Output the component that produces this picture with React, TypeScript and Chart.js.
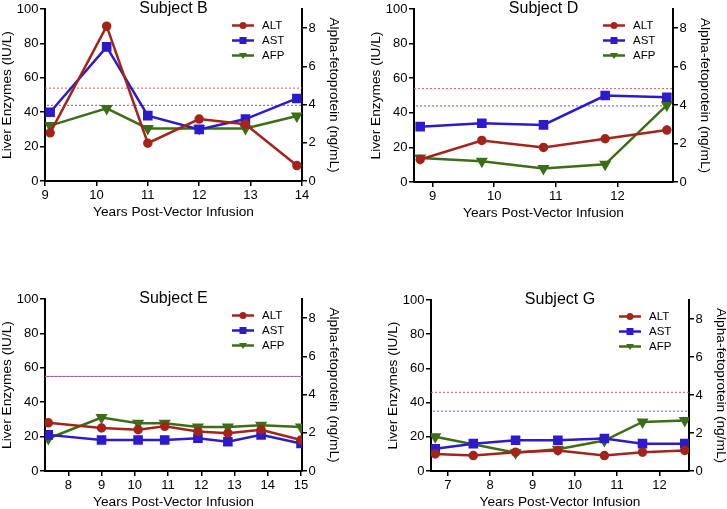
import React, { useEffect, useRef } from 'react';
import { Chart, registerables } from 'chart.js';

Chart.register(...registerables);

// ---------- data ----------
const SERIES = ['ALT', 'AST', 'AFP'];
const X_TITLE = 'Years Post-Vector Infusion';
const Y_TITLE = 'Liver Enzymes (IU/L)';
const Y2_TITLE = 'Alpha-fetoprotein (ng/mL)';
const Y_TICKS = [0, 20, 40, 60, 80, 100];
const Y2_TICKS = [0, 2, 4, 6, 8];

// Subject B
const B_YEARS = [9.1, 10.2, 11.0, 12.0, 12.9, 13.9];
const B_ALT = [28, 90, 22, 36, 33, 9];
const B_AST = [40, 78, 38, 30, 36, 48];
const B_AFP_YEARS = [9.1, 10.2, 11.0, 12.0, 12.9, 13.9];
const B_AFP = [2.9, 3.8, 2.75, 2.75, 2.75, 3.4];
const B_LIMITS = [54, 44];
const B_XRANGE = [9, 14];
const B_XTICKS = [9, 10, 11, 12, 13, 14];

// Subject D
const D_YEARS = [8.8, 9.8, 10.8, 11.8, 12.8];
const D_ALT = [13, 24, 20, 25, 30];
const D_AST = [32, 34, 33, 50, 49];
const D_AFP_YEARS = [8.8, 9.8, 10.8, 11.8, 12.8];
const D_AFP = [1.25, 1.08, 0.7, 0.92, 4.0];
const D_LIMITS = [54, 44];
const D_XRANGE = [8.7, 12.9];
const D_XTICKS = [9, 10, 11, 12];

// Subject E
const E_YEARS = [7.4, 9.0, 10.1, 10.9, 11.9, 12.8, 13.8, 15.0];
const E_ALT = [28, 25, 24, 26, 23, 22, 24, 18];
const E_AST = [21, 18, 18, 18, 19, 17, 21, 16];
const E_AFP_YEARS = [7.4, 9.0, 10.1, 10.9, 11.9, 12.8, 13.8, 15.0];
const E_AFP = [1.7, 2.8, 2.5, 2.5, 2.3, 2.3, 2.4, 2.3];
const E_LIMITS = [55, 55];
const E_XRANGE = [7.3, 15.03];
const E_XTICKS = [8, 9, 10, 11, 12, 13, 14, 15];

// Subject G
const G_YEARS = [6.7, 7.6, 8.6, 9.6, 10.7, 11.6, 12.6];
const G_ALT = [10, 9, 11, 12, 9, 11, 12];
const G_AST = [13, 16, 18, 18, 19, 16, 16];
const G_AFP_YEARS = [6.7, 8.6, 9.6, 10.7, 11.6, 12.6];
const G_AFP = [1.8, 0.96, 1.14, 1.6, 2.58, 2.66];
const G_LIMITS = [46, 35];
const G_XRANGE = [6.6, 12.7];
const G_XTICKS = [7, 8, 9, 10, 11, 12];

// ---------- style / layout ----------
const FONT = '"Liberation Sans", Arial, Helvetica, sans-serif';
const COL_ALT = '#a3241b';
const COL_AST = '#2c1acb';
const COL_AFP = '#3c6e17';
const COL_ALT_LIM = '#e05a5a';
const COL_AST_LIM = '#5a5ae8';
const LEFT_W = 45;
const RIGHT_W = 45;
const TOP_PAD = 12;
const BOTTOM_H = 40;

type Panel = {
  title: string;
  years: number[]; alt: number[]; ast: number[];
  afpYears: number[]; afp: number[];
  limits: number[]; xRange: number[]; xTicks: number[];
  area: [number, number, number, number]; // left, top, right, bottom (page px)
};

const PANELS: Panel[] = [
  { title: 'Subject B', years: B_YEARS, alt: B_ALT, ast: B_AST, afpYears: B_AFP_YEARS, afp: B_AFP, limits: B_LIMITS, xRange: B_XRANGE, xTicks: B_XTICKS, area: [45, 9, 302, 181] },
  { title: 'Subject D', years: D_YEARS, alt: D_ALT, ast: D_AST, afpYears: D_AFP_YEARS, afp: D_AFP, limits: D_LIMITS, xRange: D_XRANGE, xTicks: D_XTICKS, area: [414, 9, 673, 182] },
  { title: 'Subject E', years: E_YEARS, alt: E_ALT, ast: E_AST, afpYears: E_AFP_YEARS, afp: E_AFP, limits: E_LIMITS, xRange: E_XRANGE, xTicks: E_XTICKS, area: [45, 299, 302, 471] },
  { title: 'Subject G', years: G_YEARS, alt: G_ALT, ast: G_AST, afpYears: G_AFP_YEARS, afp: G_AFP, limits: G_LIMITS, xRange: G_XRANGE, xTicks: G_XTICKS, area: [431, 300, 689, 471] },
];

function drawMarker(ctx: CanvasRenderingContext2D, style: string, x: number, y: number, color: string) {
  ctx.fillStyle = color;
  ctx.beginPath();
  if (style === 'circle') {
    ctx.arc(x, y, 3.5, 0, Math.PI * 2);
  } else if (style === 'rect') {
    ctx.rect(x - 3.5, y - 3.5, 7, 7);
  } else {
    ctx.moveTo(x - 4, y - 2.5);
    ctx.lineTo(x + 4, y - 2.5);
    ctx.lineTo(x, y + 3.5);
    ctx.closePath();
  }
  ctx.fill();
}

function makeConfig(p: Panel): any {
  const pts = (xs: number[], ys: number[]) => xs.map((x, i) => ({ x, y: ys[i] }));
  const [xMin, xMax] = p.xRange;
  const axisFont = { family: FONT, size: 13 };
  const titleFont = { family: FONT, size: 13.7, lineHeight: 1 };
  const grid = { drawOnChartArea: false, drawTicks: true, tickLength: 5, color: '#000', lineWidth: 1.5 };
  const border = { color: '#000', width: 2 };
  const styles = ['circle', 'rect', 'triangle'];
  const cols = [COL_ALT, COL_AST, COL_AFP];

  const decor = {
    id: 'decor',
    afterDraw(chart: any) {
      const ctx = chart.ctx as CanvasRenderingContext2D;
      const ca = chart.chartArea;
      ctx.save();
      ctx.fillStyle = '#000';
      ctx.font = `16px ${FONT}`;
      ctx.textAlign = 'center';
      ctx.textBaseline = 'alphabetic';
      ctx.fillText(p.title, (ca.left + ca.right) / 2, ca.top + 3.7);
      ctx.font = `11.5px ${FONT}`;
      ctx.textAlign = 'left';
      ctx.textBaseline = 'middle';
      SERIES.forEach((name, i) => {
        const y = ca.top + 16.5 + 15 * i;
        const x0 = ca.right - 70;
        ctx.strokeStyle = cols[i];
        ctx.lineWidth = 2.5;
        ctx.beginPath();
        ctx.moveTo(x0, y);
        ctx.lineTo(x0 + 22, y);
        ctx.stroke();
        drawMarker(ctx, styles[i], x0 + 11, y, cols[i]);
        ctx.fillStyle = '#000';
        ctx.fillText(name, ca.right - 40, y + 0.5);
      });
      ctx.restore();
    },
  };

  return {
    type: 'line',
    data: {
      datasets: [
        { label: 'ALT', data: pts(p.years, p.alt), borderColor: COL_ALT, backgroundColor: COL_ALT, borderWidth: 2.5, pointStyle: 'circle', pointRadius: 3.5, yAxisID: 'y' },
        { label: 'AST', data: pts(p.years, p.ast), borderColor: COL_AST, backgroundColor: COL_AST, borderWidth: 2.5, pointStyle: 'rect', pointRadius: 5, yAxisID: 'y' },
        { label: 'AFP', data: pts(p.afpYears, p.afp), borderColor: COL_AFP, backgroundColor: COL_AFP, borderWidth: 2.5, pointStyle: 'triangle', rotation: 180, pointRadius: 4.5, yAxisID: 'y2' },
        { label: 'ALT limit', data: [{ x: xMin, y: p.limits[0] }, { x: xMax, y: p.limits[0] }], borderColor: COL_ALT_LIM, borderWidth: 1, borderDash: [2, 2], pointRadius: 0, yAxisID: 'y' },
        { label: 'AST limit', data: [{ x: xMin, y: p.limits[1] }, { x: xMax, y: p.limits[1] }], borderColor: COL_AST_LIM, borderWidth: 1, borderDash: [2, 2], borderDashOffset: 2, pointRadius: 0, yAxisID: 'y' },
      ],
    },
    options: {
      animation: false,
      responsive: false,
      maintainAspectRatio: false,
      events: [],
      layout: { padding: { top: TOP_PAD, left: 0, right: 0, bottom: 0 } },
      plugins: { legend: { display: false }, tooltip: { enabled: false }, title: { display: false } },
      scales: {
        x: {
          type: 'linear', position: 'bottom', min: xMin, max: xMax,
          afterBuildTicks: (s: any) => { s.ticks = p.xTicks.map((v) => ({ value: v })); },
          afterFit: (s: any) => { s.height = BOTTOM_H; },
          grid, border,
          ticks: { font: axisFont, color: '#000', padding: 1.5, autoSkip: false, maxRotation: 0 },
          title: { display: true, text: X_TITLE, font: titleFont, color: '#000', padding: { top: 0, bottom: 1.5 } },
        },
        y: {
          type: 'linear', position: 'left', min: 0, max: 100,
          afterBuildTicks: (s: any) => { s.ticks = Y_TICKS.map((v) => ({ value: v })); },
          afterFit: (s: any) => { s.width = LEFT_W; },
          grid, border,
          ticks: { font: axisFont, color: '#000', padding: 1.5 },
          title: { display: true, text: Y_TITLE, font: titleFont, color: '#000', padding: { top: 0.5, bottom: 0 } },
        },
        y2: {
          type: 'linear', position: 'right', min: 0, max: 9,
          afterBuildTicks: (s: any) => { s.ticks = Y2_TICKS.map((v) => ({ value: v })); },
          afterFit: (s: any) => { s.width = RIGHT_W; },
          grid, border,
          ticks: { font: axisFont, color: '#000', padding: 1.5 },
          title: { display: true, text: Y2_TITLE, font: titleFont, color: '#000', padding: { top: 6.5, bottom: 0 } },
        },
      },
    },
    plugins: [decor],
  };
}

function PanelChart({ p }: { p: Panel }) {
  const ref = useRef<HTMLCanvasElement>(null);
  const [l, t, r, b] = p.area;
  const left = l - LEFT_W;
  const top = t - TOP_PAD;
  const width = r - l + LEFT_W + RIGHT_W;
  const height = b - t + TOP_PAD + BOTTOM_H;
  useEffect(() => {
    if (!ref.current) return;
    const chart = new Chart(ref.current, makeConfig(p));
    return () => chart.destroy();
  }, [p]);
  return (
    <canvas
      ref={ref}
      width={width}
      height={height}
      style={{ position: 'absolute', left, top, width, height }}
    />
  );
}

export default function App() {
  return (
    <div style={{ position: 'fixed', left: 0, top: 0, width: 727, height: 509, overflow: 'hidden', background: '#fff' }}>
      {PANELS.map((p) => (
        <PanelChart key={p.title} p={p} />
      ))}
    </div>
  );
}
